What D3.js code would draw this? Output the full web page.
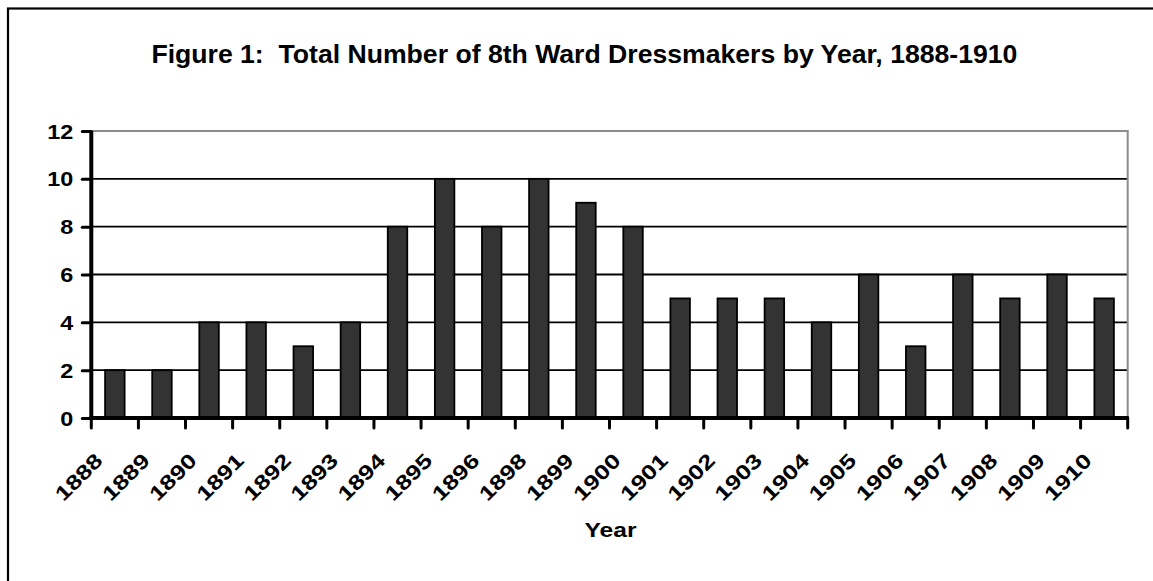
<!DOCTYPE html>
<html>
<head>
<meta charset="utf-8">
<script src="https://cdn.jsdelivr.net/npm/d3@7"></script>
<style>
  body { margin: 0; background: #fff; }
  text { font-family: Arial, "Liberation Sans", sans-serif; font-weight: bold; fill: #000; white-space: pre; }
</style>
</head>
<body>
<div id="chart"></div>
<script>
// data (no 1897 in the source)
const years = ["1888", "1889", "1890", "1891", "1892", "1893", "1894", "1895", "1896", "1898", "1899",
  "1900", "1901", "1902", "1903", "1904", "1905", "1906", "1907", "1908", "1909", "1910"];
const dressmakers = [2, 2, 4, 4, 3, 4, 8, 10, 8, 10, 9, 8, 5, 5, 5, 4, 6, 3, 6, 5, 6, 5];
const yTicks = [0, 2, 4, 6, 8, 10, 12];

const data = years.map((y, i) => ({ year: y, value: dressmakers[i] }));

const W = 1153, H = 581;
const margin = { top: 131, right: 25.3, bottom: 163, left: 91.3 },
  width = W - margin.left - margin.right,
  height = H - margin.top - margin.bottom;

const svg = d3.select("#chart").append("svg")
  .attr("width", W)
  .attr("height", H);

// outer frame (right and bottom edges fall outside the picture)
svg.append("rect")
  .attr("x", 8).attr("y", 8.5)
  .attr("width", W + 20).attr("height", H + 20)
  .attr("fill", "none").attr("stroke", "#000").attr("stroke-width", 2.2);

// wide text like the original rendering
const stretch = function (sel, k) {
  sel.each(function () {
    const w = this.getComputedTextLength();
    d3.select(this).attr("textLength", w * k).attr("lengthAdjust", "spacingAndGlyphs");
  });
};

svg.append("text")
  .attr("x", 584.4).attr("y", 63.3)
  .attr("text-anchor", "middle")
  .attr("xml:space", "preserve")
  .style("font-size", "25px")
  .attr("textLength", 866).attr("lengthAdjust", "spacingAndGlyphs")
  .text("Figure 1:  Total Number of 8th Ward Dressmakers by Year, 1888-1910");

const g = svg.append("g").attr("transform", `translate(${margin.left},${margin.top})`);

const x = d3.scaleBand()
  .domain(years)
  .range([0, width])
  .paddingInner(0.586)
  .paddingOuter(0.293);

const y = d3.scaleLinear().domain([0, 12]).range([height, 0]);

// gridlines
g.append("g")
  .selectAll("line")
  .data(yTicks.filter(t => t > 0 && t < 12))
  .join("line")
  .attr("x1", 0).attr("x2", width)
  .attr("y1", d => y(d)).attr("y2", d => y(d))
  .attr("stroke", "#000").attr("stroke-width", 1.8);

// plot area border (top and right, grey)
g.append("path")
  .attr("d", `M0,${y(12)}H${width}V${height}`)
  .attr("fill", "none").attr("stroke", "#8c8c8c").attr("stroke-width", 2);

// bars
g.append("g")
  .selectAll("rect")
  .data(data)
  .join("rect")
  .attr("x", d => x(d.year))
  .attr("y", d => y(d.value))
  .attr("width", x.bandwidth())
  .attr("height", d => y(0) - y(d.value))
  .attr("fill", "#333333")
  .attr("stroke", "#000")
  .attr("stroke-width", 1.8);

// y axis
const yAxis = g.append("g")
  .call(d3.axisLeft(y).tickValues(yTicks).tickSize(9).tickPadding(9));
yAxis.select(".domain").remove();
yAxis.selectAll(".tick line").attr("stroke", "#000").attr("stroke-width", 3).attr("stroke-linecap", "round");
yAxis.selectAll(".tick text")
  .attr("dy", "0.36em")
  .style("font-size", "19.5px")
  .call(stretch, 1.2);
g.append("line")
  .attr("x1", 0).attr("x2", 0).attr("y1", y(12)).attr("y2", height + 1)
  .attr("stroke", "#000").attr("stroke-width", 4);

// x axis: ticks on category boundaries
const step = x.step();
const off = step * x.paddingInner() / 2;
const xAxis = g.append("g").attr("transform", `translate(0,${height})`);
xAxis.append("line")
  .attr("x1", -2).attr("x2", width + 1)
  .attr("stroke", "#000").attr("stroke-width", 4);
xAxis.selectAll(".xt")
  .data(years.concat(["end"]))
  .join("line")
  .attr("class", "xt")
  .attr("x1", (d, i) => i < years.length ? x(d) - off : width)
  .attr("x2", (d, i) => i < years.length ? x(d) - off : width)
  .attr("y1", 0).attr("y2", 10)
  .attr("stroke", "#000").attr("stroke-width", 3).attr("stroke-linecap", "round");

xAxis.selectAll(".xl")
  .data(years)
  .join("text")
  .attr("class", "xl")
  .attr("text-anchor", "end")
  .attr("transform", d => `translate(${x(d) + x.bandwidth() / 2 - 11},44) rotate(-45)`)
  .style("font-size", "20.5px")
  .text(d => d)
  .call(stretch, 1.25);

// axis title
svg.append("text")
  .attr("x", 610.5).attr("y", 537)
  .attr("text-anchor", "middle")
  .style("font-size", "21px")
  .attr("textLength", 52).attr("lengthAdjust", "spacingAndGlyphs")
  .text("Year");
</script>
</body>
</html>
